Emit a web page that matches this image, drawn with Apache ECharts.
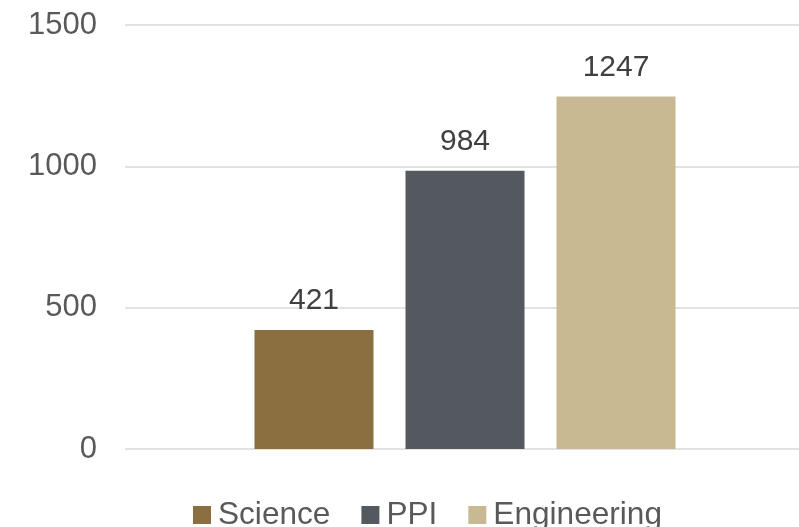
<!DOCTYPE html>
<html>
<head>
<meta charset="utf-8">
<script src="https://cdn.jsdelivr.net/npm/echarts@6/dist/echarts.min.js"></script>
<style>html,body{margin:0;padding:0;background:#fff;}#c{width:799px;height:527px;}</style>
</head>
<body>
<div id="c"></div>
<script>
const categories = [''];
const seriesNames = ['Science', 'PPI', 'Engineering'];
const scienceValues = [421];
const ppiValues = [984];
const engineeringValues = [1247];
const yTicks = [0, 500, 1000, 1500];
const colors = ['#8C6F40', '#54585F', '#C8B992'];

const chart = echarts.init(document.getElementById('c'), null, {renderer: 'canvas'});
const font = 'Liberation Sans, Arial, sans-serif';
const valueSets = [scienceValues, ppiValues, engineeringValues];
chart.setOption({
  animation: false,
  backgroundColor: '#fff',
  color: colors,
  grid: {left: 125, right: -6, top: 25, bottom: 78, containLabel: false, outerBoundsMode: 'none'},
  legend: {
    left: 188, top: 494,
    icon: 'rect', itemWidth: 18, itemHeight: 18, itemGap: 31,
    textStyle: {fontFamily: font, fontSize: 31.6, color: '#595959', padding: [0, 0, 0, 2]},
    data: seriesNames
  },
  xAxis: {
    type: 'category', data: categories,
    axisLine: {show: false}, axisTick: {show: false}, axisLabel: {show: false}
  },
  yAxis: {
    type: 'value', min: yTicks[0], max: yTicks[yTicks.length - 1], interval: 500,
    axisLine: {show: false}, axisTick: {show: false},
    axisLabel: {fontFamily: font, fontSize: 31, color: '#595959', margin: 28,
      formatter: v => String(v)},
    splitLine: {lineStyle: {color: '#D9D9D9', width: 1.5}}
  },
  series: seriesNames.map((n, i) => ({
    name: n, type: 'bar', data: valueSets[i],
    barWidth: 119, barGap: '26.9%',
    label: {show: true, position: 'top', distance: 14, fontFamily: font, fontSize: 30, color: '#404040'}
  }))
});
</script>
</body>
</html>
